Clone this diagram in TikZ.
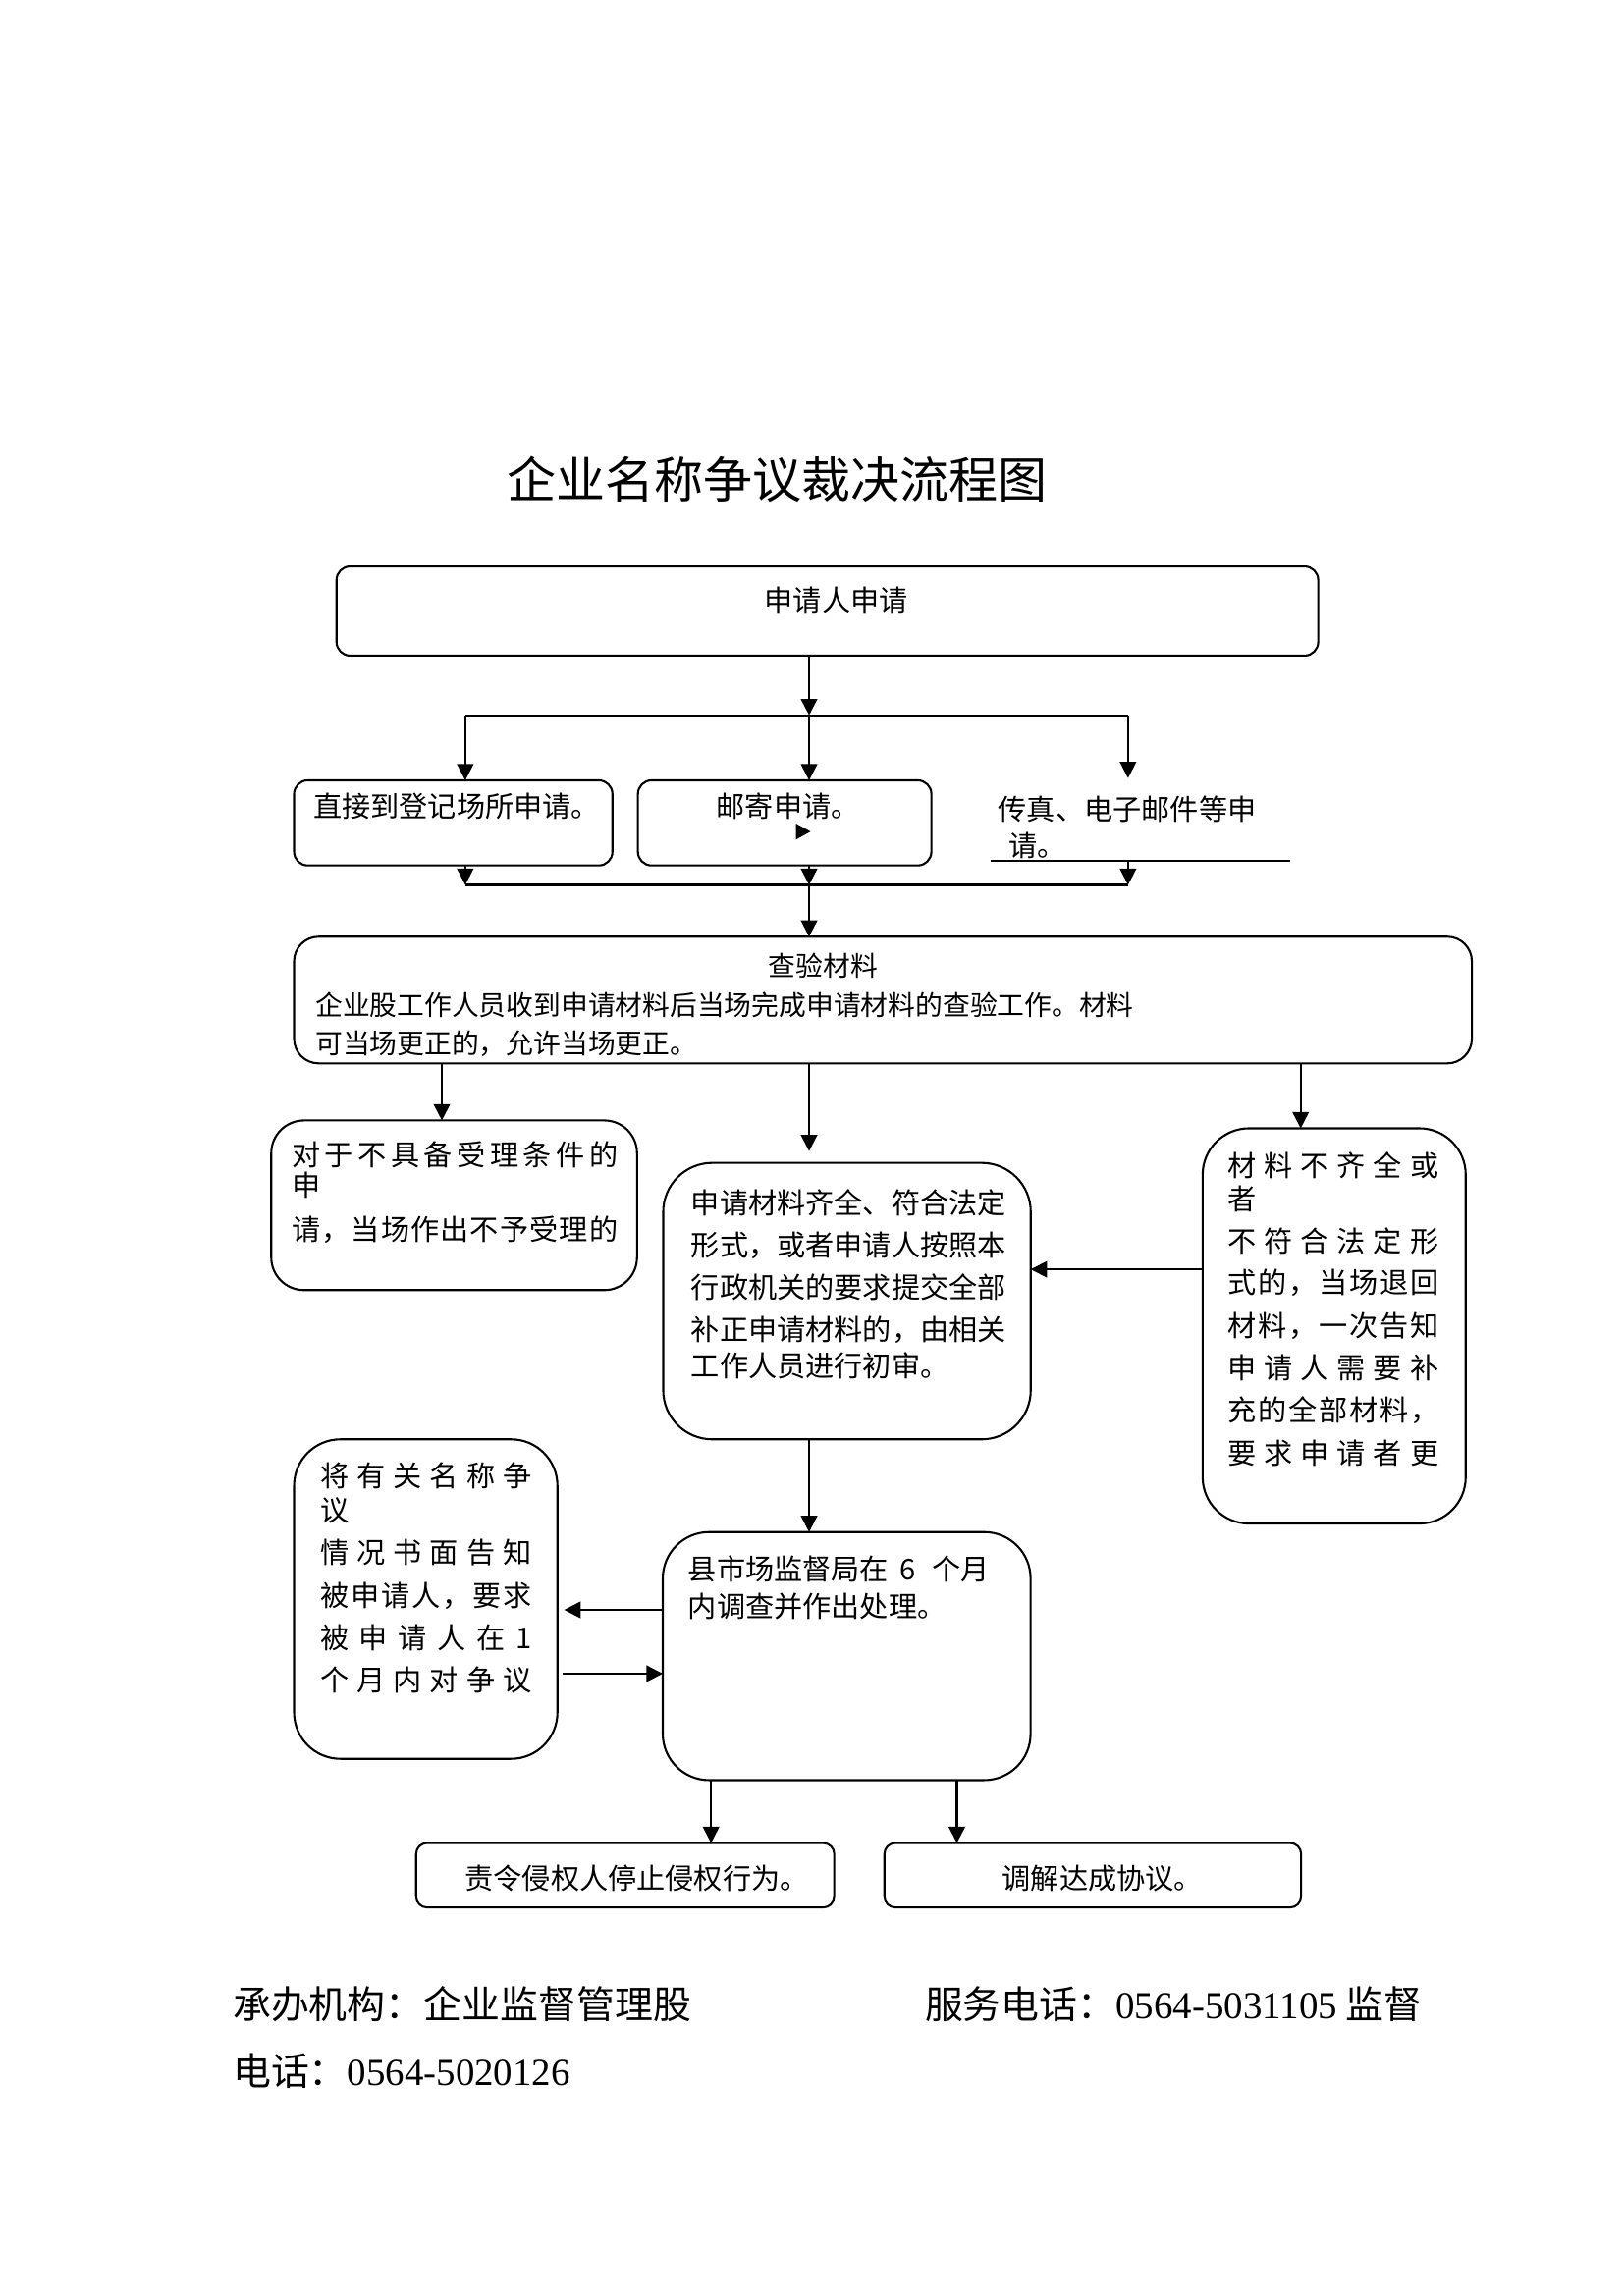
\documentclass[tikz,border=0pt]{standalone}
\usepackage{fontspec}
\usetikzlibrary{arrows.meta}
\newfontfamily\cjk{Noto Sans CJK SC}
\newfontfamily\tms{Liberation Serif}
\newlength\myu \setlength\myu{0.5363pt}
\def\sprA#1{#1\sprB}
\def\sprB#1{\ifx\relax#1\else\hfill#1\expandafter\sprB\fi}
\newcommand\spr[2]{\makebox[#1][s]{\sprA#2\relax}}
\begin{document}
\begin{tikzpicture}[x=0.5363pt, y=-0.5363pt,
  bx/.style={draw, line width=0.75pt, inner sep=0pt, outer sep=0pt, rounded corners=#1},
  bx/.default=8pt,
  ln/.style={line width=0.75pt},
  thk/.style={line width=1.4pt},
  arr/.style={line width=0.75pt, -{Triangle[length=6pt,width=6pt]}},
  tx/.style={inner sep=0pt, anchor=west, font=\cjk\fontsize{10.5pt}{12pt}\selectfont, text height=9.24pt, text depth=1.26pt},
  txc/.style={tx, anchor=center},
  txs/.style={inner sep=0pt, anchor=west, font=\cjk\fontsize{10pt}{12pt}\selectfont, text height=8.8pt, text depth=1.2pt},
  ttl/.style={inner sep=0pt, anchor=center, font=\cjk\fontsize{18pt}{20pt}\selectfont, text height=15.84pt, text depth=2.16pt},
  ft/.style={inner sep=0pt, anchor=west, font=\cjk\fontsize{14pt}{16pt}\selectfont, text height=12.32pt, text depth=1.68pt}]
\useasboundingbox (0,0) rectangle (1110,1569.7);

% title
\node[ttl] (title) at (531,328) {企业名称争议裁决流程图};

% boxes
\node[bx=5pt, minimum width=671\myu, minimum height=61\myu] (top) at (565.5,417.75) {};
\node[bx=5pt, minimum width=217.6\myu, minimum height=58.2\myu] (b2a) at (309.8,562.6) {};
\node[bx=5pt, minimum width=200.6\myu, minimum height=58.2\myu] (b2b) at (536.3,562.6) {};
\node[bx=9pt, minimum width=805\myu, minimum height=86.6\myu] (b3) at (603.5,683.7) {};
\node[bx=12pt, minimum width=250\myu, minimum height=116\myu] (b4a) at (310.4,824) {};
\node[bx=18pt, minimum width=251.2\myu, minimum height=189\myu] (b4b) at (578.9,889.5) {};
\node[bx=17pt, minimum width=179.8\myu, minimum height=270.2\myu] (b4c) at (911.9,906.5) {};
\node[bx=17pt, minimum width=251.4\myu, minimum height=169.6\myu] (b5) at (578.7,1132.2) {};
\node[bx=17pt, minimum width=180\myu, minimum height=218.4\myu] (b6) at (291,1093.2) {};
\node[bx=4pt, minimum width=285.8\myu, minimum height=44\myu] (b7a) at (427.3,1282) {};
\node[bx=4pt, minimum width=284.8\myu, minimum height=44\myu] (b7b) at (746.9,1282) {};

% texts
\node[txc] (ttop) at (571.6,410.5) {申请人申请};
\node[tx] (t2a) at (213.8,551) {直接到登记场所申请。};
\node[tx] (t2b) at (489.3,551) {邮寄申请。};
\fill (544,563) -- (554,568.5) -- (544,574) -- cycle;
\node[tx] (fax1) at (682,553.5) {传真、电子邮件等申};
\node[tx] (fax2) at (689,578) {请。};

\node[txs] (t3t) at (525,660.5) {查验材料};
\node[txs] (t3a) at (215.2,687) {企业股工作人员收到申请材料后当场完成申请材料的查验工作。材料};
\node[txs] (t3b) at (215.2,713) {可当场更正的，允许当场更正。};

\node[tx] (t4a1) at (199,789.7) {\spr{223\myu}{对于不具备受理条件的}};
\node[tx] (t4a2) at (199,810) {申};
\node[tx] (t4a3) at (199,840.5) {\spr{223\myu}{请，当场作出不予受理的}};

\node[tx] (t4b1) at (472,822.5) {申请材料齐全、符合法定};
\node[tx] (t4b2) at (472,851) {形式，或者申请人按照本};
\node[tx] (t4b3) at (472,880) {行政机关的要求提交全部};
\node[tx] (t4b4) at (472,908.8) {补正申请材料的，由相关};
\node[tx] (t4b5) at (472,933.5) {工作人员进行初审。};

\node[tx] (t4c1) at (838.7,796.6) {\spr{144.3\myu}{材料不齐全或}};
\node[tx] (t4c2) at (838.7,819.9) {者};
\node[tx] (t4c3) at (838.7,848.6) {\spr{144.3\myu}{不符合法定形}};
\node[tx] (t4c4) at (838.7,877) {\spr{144.3\myu}{式的，当场退回}};
\node[tx] (t4c5) at (838.7,906) {\spr{144.3\myu}{材料，一次告知}};
\node[tx] (t4c6) at (838.7,935) {\spr{144.3\myu}{申请人需要补}};
\node[tx] (t4c7) at (838.7,963.7) {\spr{144.3\myu}{充的全部材料，}};
\node[tx] (t4c8) at (838.7,993.8) {\spr{144.3\myu}{要求申请者更}};

\node[tx] (t51) at (470,1072.6) {县市场监督局在\hspace{4pt}6\hspace{6pt}个月};
\node[tx] (t52) at (470,1098.4) {内调查并作出处理。};

\node[tx] (t61) at (218.5,1008.9) {\spr{144.5\myu}{将有关名称争}};
\node[tx] (t62) at (218.5,1032.4) {议};
\node[tx] (t63) at (218.5,1061.5) {\spr{144.5\myu}{情况书面告知}};
\node[tx] (t64) at (218.5,1090.6) {\spr{144.5\myu}{被申请人，要求}};
\node[tx] (t65) at (218.5,1119.6) {\spr{144.5\myu}{被申请人在1}};
\node[tx] (t66) at (218.5,1148.8) {\spr{144.5\myu}{个月内对争议}};

\node[tx] (t7a) at (317.4,1283.8) {责令侵权人停止侵权行为。};
\node[tx] (t7b) at (684.6,1283.8) {调解达成协议。};

% footer
\node[ft] (f1) at (158.8,1370) {承办机构：企业监督管理股};
\node[ft] (f2) at (631.8,1370) {服务电话：{\tms 0564-5031105} 监督};
\node[ft] (f3) at (158.8,1416) {电话：{\tms 0564-5020126}};

% coordinates
\coordinate (j1) at (553,489);
\coordinate (jL) at (318,489);
\coordinate (jR) at (771,489);
\coordinate (fxT) at (771,532);
\coordinate (u1) at (677,588.5);
\coordinate (u2) at (882,588.5);
\coordinate (kL) at (318,605);
\coordinate (kM) at (553,605);
\coordinate (kR) at (771,605);
\coordinate (xa) at (302,0);
\coordinate (xb) at (553,0);
\coordinate (xc) at (889,0);
\coordinate (f1e) at (553,787);
\coordinate (yh) at (0,867.8);
\coordinate (g1) at (385.6,1100.6);
\coordinate (g2) at (384.6,1144.2);
\coordinate (x7a) at (486,0);
\coordinate (x7b) at (654,0);

% connectors
\draw[arr] (top.south -| j1) -- (j1);
\draw[ln] (jL) -- (jR);
\draw[arr] (jL) -- (jL |- b2a.north);
\draw[arr] (j1) -- (j1 |- b2b.north);
\draw[arr] (jR) -- (fxT);
\draw[line width=0.5pt] (u1) -- (u2);
\draw[arr] (b2a.south -| kL) -- (kL);
\draw[arr] (b2b.south -| kM) -- (kM);
\draw[arr] (u1 -| kR) -- (kR);
\draw[thk] (kL) -- (kR);
\draw[arr] (kM) -- (b3.north -| kM);
\draw[arr] (b3.south -| xa) -- (b4a.north -| xa);
\draw[arr] (b3.south -| xb) -- (f1e);
\draw[arr] (b3.south -| xc) -- (b4c.north -| xc);
\draw[arr] (b4c.west |- yh) -- (b4b.east |- yh);
\draw[arr] (b4b.south -| xb) -- (b5.north -| xb);
\draw[arr] (b5.west |- g1) -- (g1);
\draw[arr] (g2) -- (b5.west |- g2);
\draw[arr] (b5.south -| x7a) -- (b7a.north -| x7a);
\draw[arr] (b5.south -| x7b) -- (b7b.north -| x7b);
\end{tikzpicture}
\end{document}
